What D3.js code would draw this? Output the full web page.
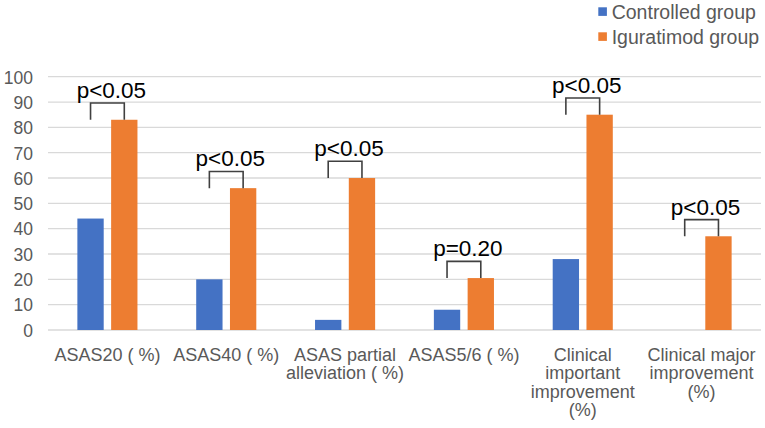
<!DOCTYPE html>
<html><head><meta charset="utf-8">
<script src="https://cdn.jsdelivr.net/npm/d3@7"></script>
<style>
html,body{margin:0;padding:0;background:#fff;}
text{font-family:"Liberation Sans",Arial,sans-serif;}
</style></head>
<body>
<svg id="chart" width="765" height="428"></svg>
<script>
const categories = [
  ["ASAS20 ( %)"],
  ["ASAS40 ( %)"],
  ["ASAS partial", "alleviation ( %)"],
  ["ASAS5/6 ( %)"],
  ["Clinical", "important", "improvement", "(%)"],
  ["Clinical major", "improvement", "(%)"]
];
const seriesNames = ["Controlled group", "Iguratimod group"];
const controlled = [44, 20, 4, 8, 28, 0];
const iguratimod = [83, 56, 60, 20.5, 85, 37];
const pLabels = ["p<0.05", "p<0.05", "p<0.05", "p=0.20", "p<0.05", "p<0.05"];
const yTicks = [0, 10, 20, 30, 40, 50, 60, 70, 80, 90, 100];
const colors = ["#4472C4", "#ED7D31"];

(function () {
const svg = d3.select("#chart");
const pLeft = 48, pRight = 761, pTop = 76.7, pBottom = 330;
const catIdx = d3.range(categories.length);
const x0 = d3.scaleBand().domain(catIdx).range([pLeft, pRight]).padding(0);
const x1 = d3.scaleBand().domain([0, 1]).range([0, x0.bandwidth()]).paddingInner(0.22).paddingOuter(0.87);
const y = d3.scaleLinear().domain([0, 100]).range([pBottom, pTop]);

// gridlines
svg.append("g").selectAll("line").data(yTicks).join("line")
  .attr("x1", pLeft).attr("x2", pRight)
  .attr("y1", d => y(d)).attr("y2", d => y(d))
  .attr("stroke", "#d9d9d9").attr("stroke-width", 1.3);

// y axis labels
const yAxis = d3.axisLeft(y).tickValues(yTicks).tickSize(0).tickPadding(0);
const ya = svg.append("g").attr("transform", "translate(33,0)").call(yAxis);
ya.select(".domain").remove();
ya.selectAll("text").attr("fill", "#595959").style("font-size", "17.5px")
  .style("font-family", "'Liberation Sans',Arial,sans-serif").attr("dy", "0.36em");

// bars
const series = [controlled, iguratimod];
series.forEach((vals, si) => {
  svg.append("g").selectAll("rect").data(vals.map((v, i) => ({v, i}))).join("rect")
    .attr("x", d => x0(d.i) + x1(si))
    .attr("width", x1.bandwidth())
    .attr("y", d => y(d.v))
    .attr("height", d => pBottom - y(d.v))
    .attr("fill", colors[si]);
});

// brackets
const br = svg.append("g");
catIdx.forEach(i => {
  const xa = x0(i) + x1(0) + x1.bandwidth() / 2;
  const xb = x0(i) + x1(1) + x1.bandwidth() / 2;
  const yb = y(iguratimod[i]);
  const yt = yb - 16.7;
  br.append("path")
    .attr("d", `M${xa},${yb}V${yt}H${xb}V${yb}`)
    .attr("fill", "none").attr("stroke", "#404040").attr("stroke-width", 1.6);
  br.append("text")
    .attr("x", (xa + xb) / 2 + 4).attr("y", yt - 5)
    .attr("text-anchor", "middle")
    .style("font-size", "22.5px").attr("fill", "#000")
    .text(pLabels[i]);
});

// category labels
const cl = svg.append("g");
catIdx.forEach(i => {
  const cx = x0(i) + x0.bandwidth() / 2;
  const t = cl.append("text")
    .attr("x", cx)
    .attr("y", 361)
    .attr("text-anchor", "middle")
    .style("font-size", "18px").attr("fill", "#595959");
  categories[i].forEach((line, k) => {
    t.append("tspan").attr("x", cx)
      .attr("y", 361 + k * 18.3).text(line);
  });
});

// legend
const lg = svg.append("g");
seriesNames.forEach((name, i) => {
  const yy = 18.5 + i * 25;
  lg.append("rect").attr("x", 598.3).attr("y", yy - 11.2).attr("width", 8.6).attr("height", 8.6)
    .attr("fill", colors[i]);
  lg.append("text").attr("x", 611.7).attr("y", yy)
    .style("font-size", "19.5px").attr("fill", "#595959").text(name);
});
})();
</script>
</body></html>
